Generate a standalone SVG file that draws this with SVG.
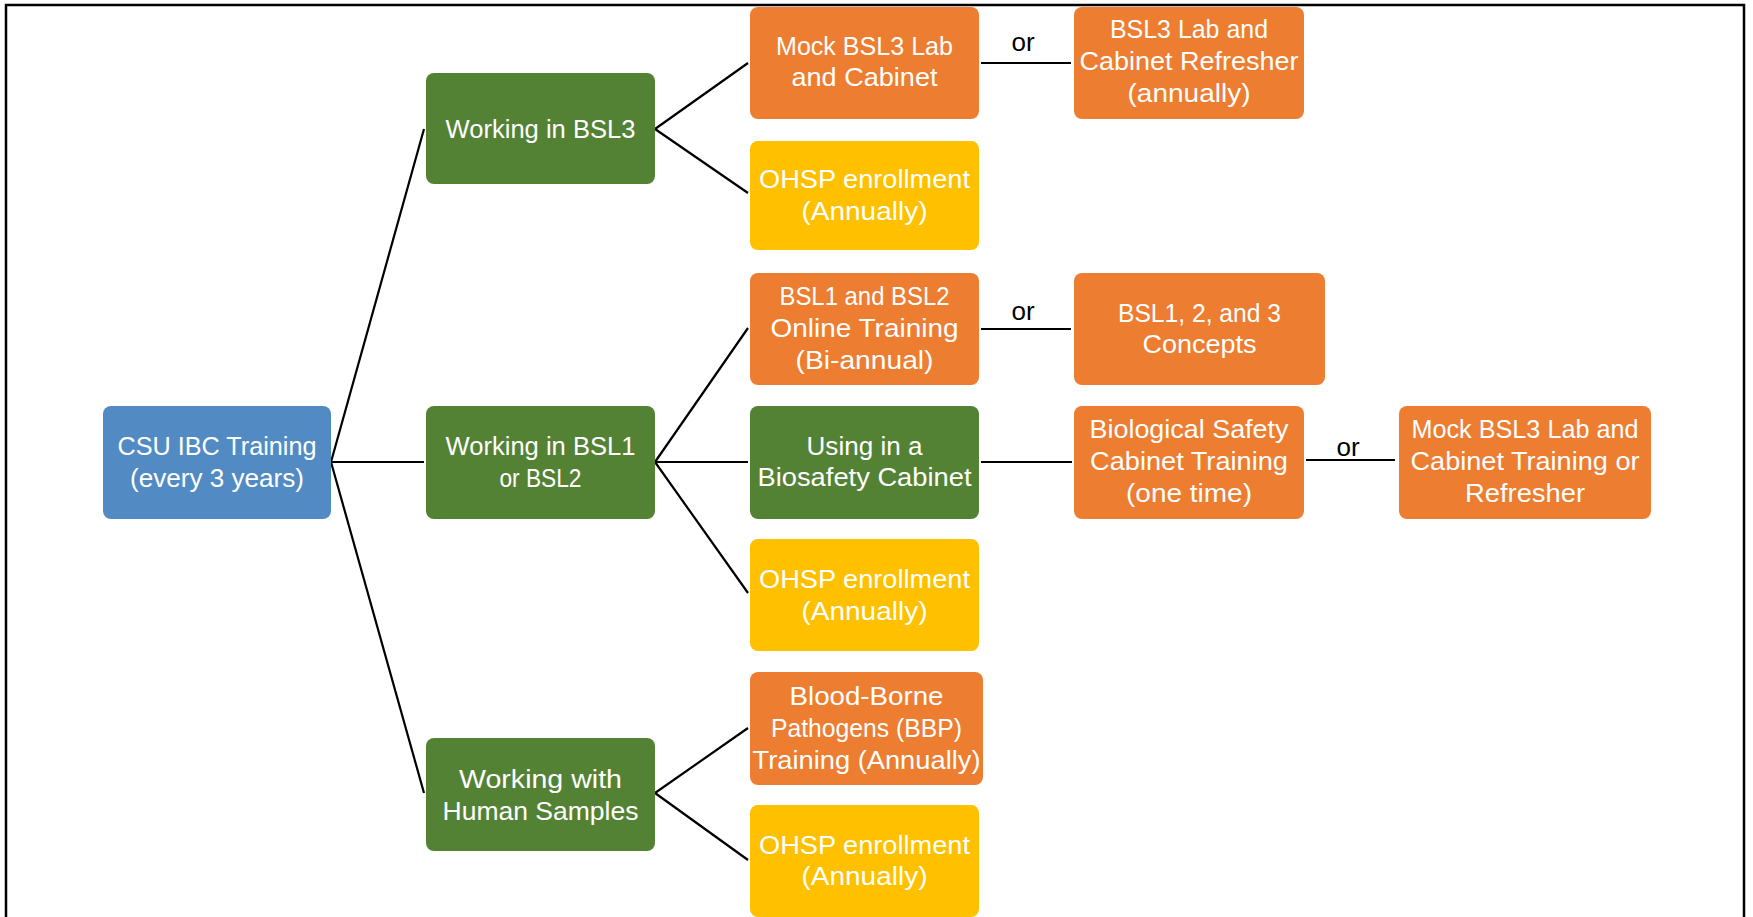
<svg xmlns="http://www.w3.org/2000/svg" width="1753" height="917" viewBox="0 0 1753 917">
<style>
.box{stroke:none}
.blue{fill:#528BC4}
.green{fill:#548235}
.orange{fill:#ED7D31}
.yellow{fill:#FFC000}
.t{font-family:"Liberation Sans",Arial,sans-serif;font-size:26px;fill:#fff;text-anchor:middle}
.or{font-family:"Liberation Sans",Arial,sans-serif;font-size:26px;fill:#000;text-anchor:middle}
.c{stroke:#000;stroke-width:2.2;fill:none}
</style>
<rect x="0" y="0" width="1753" height="917" fill="#fff"/>
<path d="M6,920 V5 H1744 V920" fill="none" stroke="#000" stroke-width="2.5"/>
<g id="connectors">
<path class="c" d="M331,462 L424,129 M331,462 L424,462 M331,462 L424,793"/>
<path class="c" d="M655,129 L748,63 M655,129 L748,193"/>
<path class="c" d="M655,462 L748,328 M655,462 L748,462 M655,462 L748,593"/>
<path class="c" d="M655,793 L748,728 M655,793 L748,860"/>
<path class="c" d="M981,63 H1071 M981,329 H1071 M981,462 H1072 M1306,460 H1395"/>
<text class="or" x="1023" y="51">or</text>
<text class="or" x="1023" y="320">or</text>
<text class="or" x="1348" y="456">or</text>
</g>
<g id="root"><rect class="box blue" x="103" y="406" width="228" height="113" rx="8"/>
<text class="t" x="217" y="455" textLength="199" lengthAdjust="spacingAndGlyphs">CSU IBC Training</text>
<text class="t" x="217" y="487" textLength="174" lengthAdjust="spacingAndGlyphs">(every 3 years)</text></g>
<g id="bsl3"><rect class="box green" x="426" y="73" width="229" height="111" rx="8"/>
<text class="t" x="540.5" y="138" textLength="190" lengthAdjust="spacingAndGlyphs">Working in BSL3</text></g>
<g id="bsl12"><rect class="box green" x="426" y="406" width="229" height="113" rx="8"/>
<text class="t" x="540.5" y="455" textLength="190" lengthAdjust="spacingAndGlyphs">Working in BSL1</text>
<text class="t" x="540.5" y="487" textLength="82" lengthAdjust="spacingAndGlyphs">or BSL2</text></g>
<g id="human"><rect class="box green" x="426" y="738" width="229" height="113" rx="8"/>
<text class="t" x="540.5" y="788" textLength="163" lengthAdjust="spacingAndGlyphs">Working with</text>
<text class="t" x="540.5" y="820" textLength="196" lengthAdjust="spacingAndGlyphs">Human Samples</text></g>
<g id="mock1"><rect class="box orange" x="750" y="7" width="229" height="112" rx="8"/>
<text class="t" x="864.5" y="55" textLength="177" lengthAdjust="spacingAndGlyphs">Mock BSL3 Lab</text>
<text class="t" x="864.5" y="86" textLength="146" lengthAdjust="spacingAndGlyphs">and Cabinet</text></g>
<g id="ohsp1"><rect class="box yellow" x="750" y="141" width="229" height="109" rx="8"/>
<text class="t" x="864.5" y="188" textLength="211" lengthAdjust="spacingAndGlyphs">OHSP enrollment</text>
<text class="t" x="864.5" y="220" textLength="126" lengthAdjust="spacingAndGlyphs">(Annually)</text></g>
<g id="bsl12online"><rect class="box orange" x="750" y="273" width="229" height="112" rx="8"/>
<text class="t" x="864.5" y="304.5" textLength="170" lengthAdjust="spacingAndGlyphs">BSL1 and BSL2</text>
<text class="t" x="864.5" y="337" textLength="188" lengthAdjust="spacingAndGlyphs">Online Training</text>
<text class="t" x="864.5" y="368.5" textLength="138" lengthAdjust="spacingAndGlyphs">(Bi-annual)</text></g>
<g id="using"><rect class="box green" x="750" y="406" width="229" height="113" rx="8"/>
<text class="t" x="864.5" y="455" textLength="116" lengthAdjust="spacingAndGlyphs">Using in a</text>
<text class="t" x="864.5" y="486" textLength="214" lengthAdjust="spacingAndGlyphs">Biosafety Cabinet</text></g>
<g id="ohsp2"><rect class="box yellow" x="750" y="539" width="229" height="112" rx="8"/>
<text class="t" x="864.5" y="588" textLength="211" lengthAdjust="spacingAndGlyphs">OHSP enrollment</text>
<text class="t" x="864.5" y="620" textLength="126" lengthAdjust="spacingAndGlyphs">(Annually)</text></g>
<g id="bbp"><rect class="box orange" x="750" y="672" width="233" height="113" rx="8"/>
<text class="t" x="866.5" y="704.5" textLength="154" lengthAdjust="spacingAndGlyphs">Blood-Borne</text>
<text class="t" x="866.5" y="737" textLength="191" lengthAdjust="spacingAndGlyphs">Pathogens (BBP)</text>
<text class="t" x="866.5" y="768.5" textLength="228" lengthAdjust="spacingAndGlyphs">Training (Annually)</text></g>
<g id="ohsp3"><rect class="box yellow" x="750" y="805" width="229" height="112" rx="8"/>
<text class="t" x="864.5" y="854" textLength="211" lengthAdjust="spacingAndGlyphs">OHSP enrollment</text>
<text class="t" x="864.5" y="885" textLength="126" lengthAdjust="spacingAndGlyphs">(Annually)</text></g>
<g id="refresher"><rect class="box orange" x="1074" y="7" width="230" height="112" rx="8"/>
<text class="t" x="1189" y="37.5" textLength="158" lengthAdjust="spacingAndGlyphs">BSL3 Lab and</text>
<text class="t" x="1189" y="69.5" textLength="219" lengthAdjust="spacingAndGlyphs">Cabinet Refresher</text>
<text class="t" x="1189" y="101.5" textLength="123" lengthAdjust="spacingAndGlyphs">(annually)</text></g>
<g id="concepts"><rect class="box orange" x="1074" y="273" width="251" height="112" rx="8"/>
<text class="t" x="1199.5" y="321.5" textLength="163" lengthAdjust="spacingAndGlyphs">BSL1, 2, and 3</text>
<text class="t" x="1199.5" y="352.5" textLength="114" lengthAdjust="spacingAndGlyphs">Concepts</text></g>
<g id="biological"><rect class="box orange" x="1074" y="406" width="230" height="113" rx="8"/>
<text class="t" x="1189" y="437.5" textLength="199" lengthAdjust="spacingAndGlyphs">Biological Safety</text>
<text class="t" x="1189" y="470" textLength="198" lengthAdjust="spacingAndGlyphs">Cabinet Training</text>
<text class="t" x="1189" y="501.5" textLength="126" lengthAdjust="spacingAndGlyphs">(one time)</text></g>
<g id="mock2"><rect class="box orange" x="1399" y="406" width="252" height="113" rx="8"/>
<text class="t" x="1525" y="437.5" textLength="227" lengthAdjust="spacingAndGlyphs">Mock BSL3 Lab and</text>
<text class="t" x="1525" y="470" textLength="229" lengthAdjust="spacingAndGlyphs">Cabinet Training or</text>
<text class="t" x="1525" y="501.5" textLength="120" lengthAdjust="spacingAndGlyphs">Refresher</text></g>
</svg>
